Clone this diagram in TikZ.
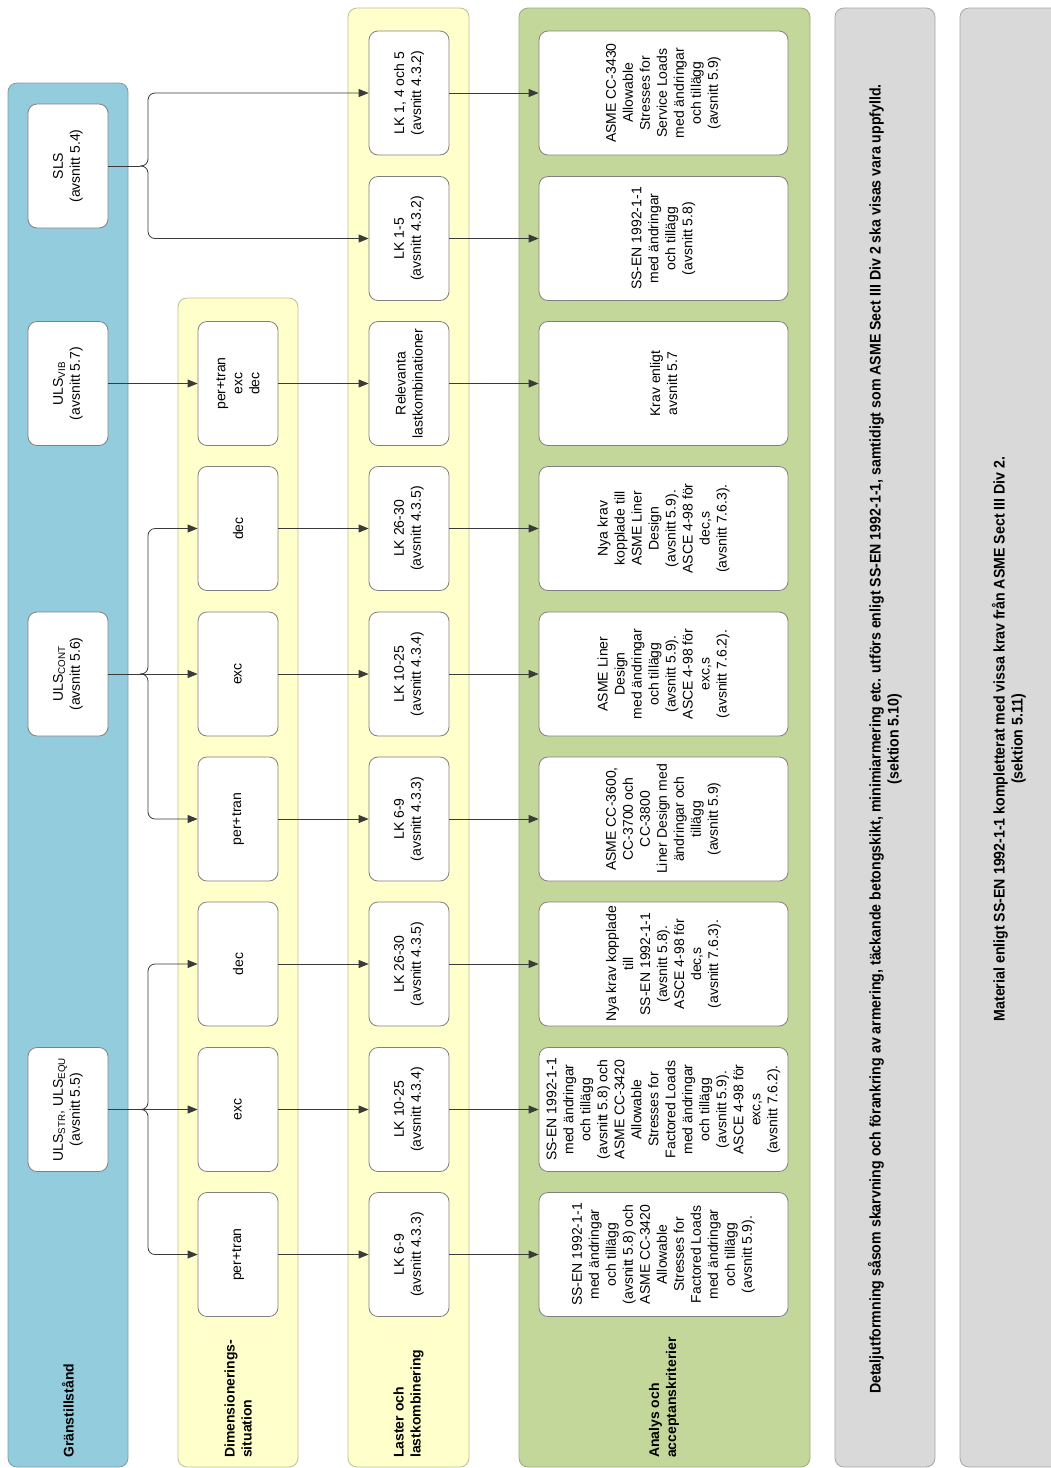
\documentclass[tikz,border=0pt]{standalone}
\usepackage{fontspec}
\setmainfont{Liberation Sans}
\newfontfamily\mygrayfamily[FakeStretch=0.92]{Liberation Sans}
\usetikzlibrary{arrows.meta}
\definecolor{laneblue}{HTML}{93CDDD}
\definecolor{laneblueb}{HTML}{7A9EA8}
\definecolor{laneyellow}{HTML}{FFFFCC}
\definecolor{laneyellowb}{HTML}{BFBF95}
\definecolor{lanegreen}{HTML}{C4D79B}
\definecolor{lanegreenb}{HTML}{9CAD7A}
\definecolor{lanegray}{HTML}{D9D9D9}
\definecolor{lanegrayb}{HTML}{A6A6A6}
\definecolor{boxborder}{HTML}{808080}
\definecolor{linecol}{HTML}{3A3A3A}
\newcommand{\mynodefont}{\fontsize{14}{17}\selectfont}
\newcommand{\mytitlefont}{\bfseries\fontsize{14}{17}\selectfont}
\newcommand{\mygrayfont}{\mygrayfamily\bfseries\fontsize{15.4}{18}\selectfont}
\tikzset{
  lane/.style={line width=0.8pt, rounded corners=9pt},
  box/.style={draw=boxborder, fill=white, rounded corners=9pt, rotate=90,
    align=center, font=\mynodefont, inner sep=3pt, line width=0.8pt},
  bsmall/.style={box, minimum width=124pt, minimum height=80pt},
  bwide/.style={box, minimum width=124pt, minimum height=249pt},
  conn/.style={draw=linecol, line width=0.8pt, -{Triangle[length=10pt,width=8pt]}},
  plain/.style={draw=linecol, line width=0.8pt},
  lanetitle/.style={rotate=90, anchor=west, align=left, font=\mytitlefont, inner sep=0pt},
  graytext/.style={rotate=90, align=center, font=\mygrayfont, inner sep=0pt},
}
\begin{document}
\begin{tikzpicture}[x=1pt, y=-1pt]
\useasboundingbox (0,0) rectangle (1051,1468);
\fill[white] (0,0) rectangle (1051,1468);
% lanes
\path[lane, fill=laneblue, draw=laneblueb] (8,83) rectangle (128,1467);
\path[lane, fill=laneyellow, draw=laneyellowb] (178,298) rectangle (298,1467);
\path[lane, fill=laneyellow, draw=laneyellowb] (348,8) rectangle (469,1467);
\path[lane, fill=lanegreen, draw=lanegreenb] (519,8) rectangle (810,1467);
\path[lane, fill=lanegray, draw=lanegrayb] (835,8) rectangle (935,1467);
\path[lane, fill=lanegray, draw=lanegrayb] (960,8) rectangle (1066,1467);
% lane titles
\node[lanetitle] (t1) at (68,1458) {Gränstillstånd};
\node[lanetitle] (t2) at (238,1458) {Dimensionerings-\\situation};
\node[lanetitle] (t3) at (408.5,1458) {Laster och\\lastkombinering};
\node[lanetitle] (t4) at (664,1458) {Analys och\\acceptanskriterier};
\node[graytext] (g1) at (885,739) {Detaljutformning såsom skarvning och förankring av armering, täckande betongskikt, minimiarmering etc. utförs enligt SS-EN 1992-1-1, samtidigt som ASME Sect III Div 2 ska visas vara uppfylld.\\(sektion 5.10)};
\node[graytext] (g2) at (1009,739) {Material enligt SS-EN 1992-1-1 kompletterat med vissa krav från ASME Sect III Div 2.\\(sektion 5.11)};
% lane 1
\node[bsmall] (sls) at (68,166) {SLS\\(avsnitt 5.4)};
\node[bsmall] (vib) at (68,383.5) {ULS\textsubscript{VIB}\\(avsnitt 5.7)};
\node[bsmall] (cont) at (68,674) {ULS\textsubscript{CONT}\\(avsnitt 5.6)};
\node[bsmall] (str) at (68,1109.5) {ULS\textsubscript{STR}, ULS\textsubscript{EQU}\\(avsnitt 5.5)};
% lane 2
\node[bsmall] (d2) at (238,383.5) {per+tran\\exc\\dec};
\node[bsmall] (d3) at (238,528.5) {dec};
\node[bsmall] (d4) at (238,674) {exc};
\node[bsmall] (d5) at (238,819) {per+tran};
\node[bsmall] (d6) at (238,964) {dec};
\node[bsmall] (d7) at (238,1109.5) {exc};
\node[bsmall] (d8) at (238,1254.5) {per+tran};
% lane 3
\node[bsmall] (l0) at (409,93) {LK 1, 4 och 5\\(avsnitt 4.3.2)};
\node[bsmall] (l1) at (409,238.5) {LK 1-5\\(avsnitt 4.3.2)};
\node[bsmall] (l2) at (409,383.5) {Relevanta\\lastkombinationer};
\node[bsmall] (l3) at (409,528.5) {LK 26-30\\(avsnitt 4.3.5)};
\node[bsmall] (l4) at (409,674) {LK 10-25\\(avsnitt 4.3.4)};
\node[bsmall] (l5) at (409,819) {LK 6-9\\(avsnitt 4.3.3)};
\node[bsmall] (l6) at (409,964) {LK 26-30\\(avsnitt 4.3.5)};
\node[bsmall] (l7) at (409,1109.5) {LK 10-25\\(avsnitt 4.3.4)};
\node[bsmall] (l8) at (409,1254.5) {LK 6-9\\(avsnitt 4.3.3)};
% lane 4
\node[bwide] (a0) at (663.5,93) {ASME CC-3430\\Allowable\\Stresses for\\Service Loads\\med ändringar\\och tillägg\\(avsnitt 5.9)};
\node[bwide] (a1) at (663.5,238.5) {SS-EN 1992-1-1\\med ändringar\\och tillägg\\(avsnitt 5.8)};
\node[bwide] (a2) at (663.5,383.5) {Krav enligt\\avsnitt 5.7};
\node[bwide] (a3) at (663.5,528.5) {Nya krav\\kopplade till\\ASME Liner\\Design\\(avsnitt 5.9).\\ASCE 4-98 för\\dec,s\\(avsnitt 7.6.3).};
\node[bwide] (a4) at (663.5,674) {ASME Liner\\Design\\med ändringar\\och tillägg\\(avsnitt 5.9).\\ASCE 4-98 för\\exc,s\\(avsnitt 7.6.2).};
\node[bwide] (a5) at (663.5,819) {ASME CC-3600,\\CC-3700 och\\CC-3800\\Liner Design med\\ändringar och\\tillägg\\(avsnitt 5.9)};
\node[bwide] (a6) at (663.5,964) {Nya krav kopplade\\till\\SS-EN 1992-1-1\\(avsnitt 5.8).\\ASCE 4-98 för\\dec,s\\(avsnitt 7.6.3).};
\node[bwide] (a7) at (663.5,1109.5) {SS-EN 1992-1-1\\med ändringar\\och tillägg\\(avsnitt 5.8) och\\ASME CC-3420\\Allowable\\Stresses for\\Factored Loads\\med ändringar\\och tillägg\\(avsnitt 5.9).\\ASCE 4-98 för\\exc,s\\(avsnitt 7.6.2).};
\node[bwide] (a8) at (663.5,1254.5) {SS-EN 1992-1-1\\med ändringar\\och tillägg\\(avsnitt 5.8) och\\ASME CC-3420\\Allowable\\Stresses for\\Factored Loads\\med ändringar\\och tillägg\\(avsnitt 5.9).};
% junctions of the braces
\coordinate (js) at (140,166);
\coordinate (jc) at (140,674);
\coordinate (ju) at (140,1109.5);
% SLS
\draw[plain] (sls) -- (js);
\draw[conn, rounded corners=7pt] (js) -- ++(8,0) |- (l0);
\draw[conn, rounded corners=7pt] (js) -- ++(8,0) |- (l1);
% ULS VIB
\draw[conn] (vib) -- (d2);
% ULS CONT
\draw[conn] (cont) -- (d4);
\draw[conn, rounded corners=7pt] (jc) -- ++(8,0) |- (d3);
\draw[conn, rounded corners=7pt] (jc) -- ++(8,0) |- (d5);
% ULS STR/EQU
\draw[conn] (str) -- (d7);
\draw[conn, rounded corners=7pt] (ju) -- ++(8,0) |- (d6);
\draw[conn, rounded corners=7pt] (ju) -- ++(8,0) |- (d8);
% lane 2 -> lane 3
\foreach \i in {2,...,8} { \draw[conn] (d\i) -- (l\i); }
% lane 3 -> lane 4
\foreach \i in {0,...,8} { \draw[conn] (l\i) -- (a\i); }
\end{tikzpicture}
\end{document}
